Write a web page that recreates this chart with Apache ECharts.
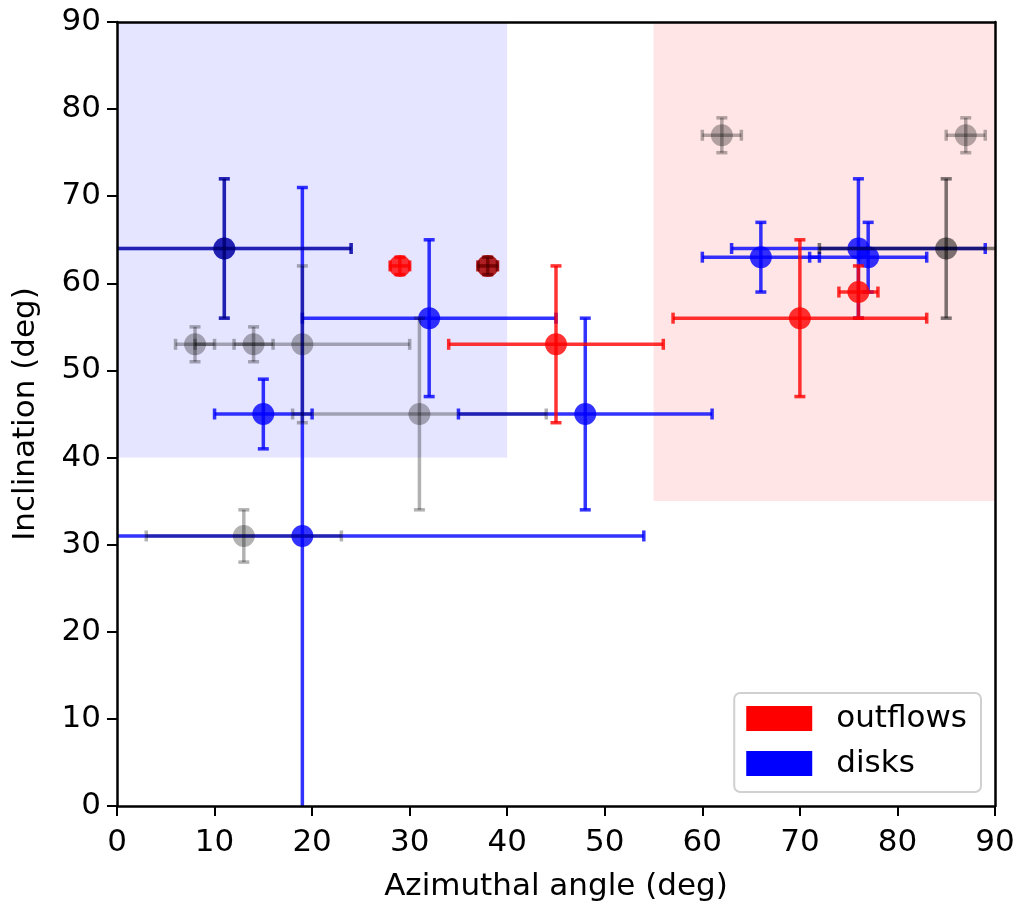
<!DOCTYPE html>
<html>
<head>
<meta charset="utf-8">
<script src="https://cdn.jsdelivr.net/npm/echarts@6/dist/echarts.min.js"></script>
<style>
html,body{margin:0;padding:0;background:#fff;}
#chart{width:1022px;height:907px;}
</style>
</head>
<body>
<div id="chart"></div>
<script>
// ---- data ----
const diskX    = [11, 19, 32, 15, 48, 66, 76, 77];
const diskY    = [64, 31, 56, 45, 45, 63, 64, 63];
const diskXErr = [13, 35, 13, 5, 13, 6, 13, 6];
const diskYErr = [8, 40, 9, 4, 11, 4, 8, 4];

const outX    = [29, 38, 45, 70, 76];
const outY    = [62, 62, 53, 56, 59];
const outXErr = [1, 1, 11, 13, 2];
const outYErr = [1, 1, 9, 9, 3];

const otherX    = [8, 14, 19, 31, 13, 11, 38, 62, 87, 85, 85];
const otherY    = [53, 53, 53, 45, 31, 64, 62, 77, 77, 64, 64];
const otherXErr = [2, 2, 11, 13, 10, 13, 1, 2, 2, 13, 13];
const otherYErr = [2, 2, 9, 11, 3, 8, 1, 2, 2, 8, 8];

// shaded regions: [xmin, xmax, ymin, ymax]
const diskRegion = [0, 40, 40, 90];
const outflowRegion = [55, 90, 35, 90];

const xTicks = [0, 10, 20, 30, 40, 50, 60, 70, 80, 90];
const yTicks = [0, 10, 20, 30, 40, 50, 60, 70, 80, 90];

// ---- build ----
function rows(x, y, xe, ye) {
  return x.map((v, i) => [v, y[i], xe[i], ye[i]]);
}

function makeRender(color) {
  return function (params, api) {
    const cs = params.coordSys;
    const x0 = cs.x, x1 = cs.x + cs.width, y0 = cs.y, y1 = cs.y + cs.height;
    const cx = v => Math.max(x0, Math.min(x1, v));
    const cy = v => Math.max(y0, Math.min(y1, v));
    const inX = v => v >= x0 - 0.5 && v <= x1 + 0.5;
    const inY = v => v >= y0 - 0.5 && v <= y1 + 0.5;
    const x = api.value(0), y = api.value(1), xe = api.value(2), ye = api.value(3);
    const c = api.coord([x, y]);
    const l = api.coord([x - xe, y]);
    const r = api.coord([x + xe, y]);
    const t = api.coord([x, y + ye]);
    const b = api.coord([x, y - ye]);
    const lw = 3.5, cap = 5.5;
    const st = {stroke: color, lineWidth: lw, fill: null};
    const cst = {stroke: color, lineWidth: 3.5, fill: null};
    const children = [];
    children.push({type: 'line', shape: {x1: cx(l[0]), y1: c[1], x2: cx(r[0]), y2: c[1]}, style: st});
    children.push({type: 'line', shape: {x1: c[0], y1: cy(t[1]), x2: c[0], y2: cy(b[1])}, style: st});
    if (inX(l[0])) children.push({type: 'line', shape: {x1: l[0], y1: c[1] - cap, x2: l[0], y2: c[1] + cap}, style: cst});
    if (inX(r[0])) children.push({type: 'line', shape: {x1: r[0], y1: c[1] - cap, x2: r[0], y2: c[1] + cap}, style: cst});
    if (inY(t[1])) children.push({type: 'line', shape: {x1: c[0] - cap, y1: t[1], x2: c[0] + cap, y2: t[1]}, style: cst});
    if (inY(b[1])) children.push({type: 'line', shape: {x1: c[0] - cap, y1: b[1], x2: c[0] + cap, y2: b[1]}, style: cst});
    children.push({type: 'circle', shape: {cx: c[0], cy: c[1], r: 11}, style: {fill: color, stroke: null}});
    return {type: 'group', children: children};
  };
}

const FONT = 'DejaVu Sans';
const FS = 31;
const chart = echarts.init(document.getElementById('chart'), null, {renderer: 'canvas'});

const axisLineStyle = {color: '#000', width: 2.5};

chart.setOption({
  backgroundColor: '#fff',
  animation: false,
  textStyle: {fontFamily: FONT},
  grid: {left: 117, top: 22, right: 27, bottom: 100, containLabel: false},
  legend: {
    orient: 'vertical',
    right: 41,
    bottom: 115,
    data: ['outflows', 'disks'],
    icon: 'rect',
    itemWidth: 66,
    itemHeight: 25,
    itemGap: 14,
    padding: [10, 14, 13, 12],
    borderColor: '#d0d0d0',
    borderWidth: 2,
    borderRadius: 6,
    backgroundColor: 'rgba(255,255,255,0.8)',
    textStyle: {fontFamily: FONT, fontSize: FS, color: '#000', padding: [0, 0, 0, 19]},
    selectedMode: false
  },
  xAxis: [{
    type: 'value', min: xTicks[0], max: xTicks[xTicks.length - 1], interval: 10,
    z: 10,
    name: 'Azimuthal angle (deg)', nameLocation: 'middle', nameGap: 65,
    nameTextStyle: {fontFamily: FONT, fontSize: FS, color: '#000'},
    axisLine: {show: true, onZero: false, lineStyle: axisLineStyle},
    axisTick: {show: true, length: 10, lineStyle: {color: '#000', width: 2}},
    axisLabel: {fontFamily: FONT, fontSize: FS, color: '#000', margin: 21},
    splitLine: {show: false}
  }, {
    type: 'value', position: 'top', min: 0, max: 90, z: 10,
    axisLine: {show: true, onZero: false, lineStyle: axisLineStyle},
    axisTick: {show: false}, axisLabel: {show: false}, splitLine: {show: false}
  }],
  yAxis: [{
    type: 'value', min: yTicks[0], max: yTicks[yTicks.length - 1], interval: 10,
    z: 10,
    name: 'Inclination (deg)', nameLocation: 'middle', nameGap: 76,
    nameTextStyle: {fontFamily: FONT, fontSize: FS, color: '#000'},
    axisLine: {show: true, onZero: false, lineStyle: axisLineStyle},
    axisTick: {show: true, length: 10, lineStyle: {color: '#000', width: 2}},
    axisLabel: {fontFamily: FONT, fontSize: FS, color: '#000', margin: 16},
    splitLine: {show: false}
  }, {
    type: 'value', position: 'right', min: 0, max: 90, z: 10,
    axisLine: {show: true, onZero: false, lineStyle: axisLineStyle},
    axisTick: {show: false}, axisLabel: {show: false}, splitLine: {show: false}
  }],
  series: [
    {
      name: 'regions', type: 'custom', silent: true, z: 1,
      data: [],
      renderItem: function () { return null; },
      markArea: {
        silent: true,
        data: [
          [{xAxis: diskRegion[0], yAxis: diskRegion[2], itemStyle: {color: 'rgba(0,0,255,0.1)'}},
           {xAxis: diskRegion[1], yAxis: diskRegion[3]}],
          [{xAxis: outflowRegion[0], yAxis: outflowRegion[2], itemStyle: {color: 'rgba(255,0,0,0.1)'}},
           {xAxis: outflowRegion[1], yAxis: outflowRegion[3]}]
        ]
      }
    },
    {
      name: 'disks', type: 'custom', z: 3,
      itemStyle: {color: '#0000ff'},
      encode: {x: 0, y: 1},
      data: rows(diskX, diskY, diskXErr, diskYErr),
      renderItem: makeRender('rgba(0,0,255,0.8)')
    },
    {
      name: 'outflows', type: 'custom', z: 4,
      itemStyle: {color: '#ff0000'},
      encode: {x: 0, y: 1},
      data: rows(outX, outY, outXErr, outYErr),
      renderItem: makeRender('rgba(255,0,0,0.8)')
    },
    {
      name: 'other', type: 'custom', z: 5,
      itemStyle: {color: '#888'},
      encode: {x: 0, y: 1},
      data: rows(otherX, otherY, otherXErr, otherYErr),
      renderItem: makeRender('rgba(0,0,0,0.3)')
    }
  ]
});
</script>
</body>
</html>
